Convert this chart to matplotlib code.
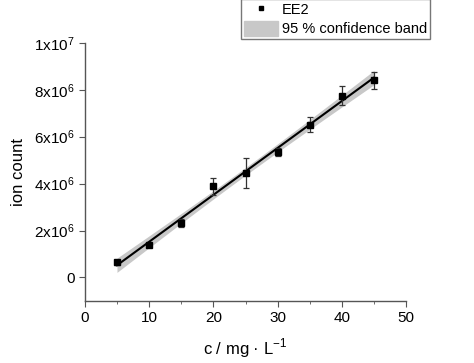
import numpy as np
import matplotlib
matplotlib.use('Agg')
import matplotlib.pyplot as plt
from matplotlib.patches import Patch
from matplotlib.lines import Line2D

plt.rcParams['font.family'] = ['Liberation Sans', 'DejaVu Sans']
plt.rcParams['mathtext.fontset'] = 'custom'
plt.rcParams['mathtext.rm'] = 'Liberation Sans'

# concentration (mg/L) and ion counts
conc = [5, 10, 15, 20, 25, 30, 35, 40, 45]
counts = [0.64e6, 1.39e6, 2.31e6, 3.88e6, 4.46e6, 5.34e6, 6.51e6, 7.75e6, 8.41e6]
errs = [0.10e6, 0.05e6, 0.17e6, 0.35e6, 0.63e6, 0.18e6, 0.32e6, 0.41e6, 0.36e6]

yticks = [0, 2e6, 4e6, 6e6, 8e6, 1e7]
ytick_labels = ['0', r'$\mathregular{2x10^{6}}$', r'$\mathregular{4x10^{6}}$',
                r'$\mathregular{6x10^{6}}$', r'$\mathregular{8x10^{6}}$',
                r'$\mathregular{1x10^{7}}$']
xticks = [0, 10, 20, 30, 40, 50]

x = np.array(conc)
y = np.array(counts)

# linear fit and 95 % confidence band of the fit
slope, icpt = np.polyfit(x, y, 1)
xf = np.linspace(5, 45, 100)
yf = slope * xf + icpt
n = len(x)
resid = y - (slope * x + icpt)
s = np.sqrt(np.sum(resid**2) / (n - 2))
t = 2.365
band = t * s * np.sqrt(1 / n + (xf - x.mean())**2 / np.sum((x - x.mean())**2))

fig = plt.figure(figsize=(4.74, 3.63), dpi=100)
ax = fig.add_axes([0.179, 0.171, 0.678, 0.711])

ax.fill_between(xf, yf - band, yf + band, color='#c8c8c8', lw=0, zorder=1)
ax.plot(xf, yf, color='black', lw=1.5, zorder=2)
ax.errorbar(x, y, yerr=errs, fmt='s', color='black', ms=5, ecolor='#333333',
            elinewidth=0.9, capsize=2, capthick=0.9, zorder=3)

ax.set_xlim(0, 50)
ax.set_ylim(-1e6, 1e7)
ax.set_xticks(xticks)
ax.set_xticks([5, 15, 25, 35, 45], minor=True)
ax.set_yticks(yticks)
ax.set_yticklabels(ytick_labels)

for side in ['top', 'right']:
    ax.spines[side].set_visible(False)
for side in ['left', 'bottom']:
    ax.spines[side].set_color('#555555')
    ax.spines[side].set_linewidth(1.0)
ax.tick_params(which='major', direction='out', length=4, color='#555555',
               labelsize=11)
ax.tick_params(which='minor', direction='out', length=2, color='#555555')

ax.set_xlabel(r'c / mg · L$^{\mathregular{-1}}$', fontsize=12, labelpad=8)
ax.set_ylabel('ion count', fontsize=12, labelpad=6)

handles = [Line2D([], [], marker='s', ls='none', color='black', ms=3.5),
           Patch(facecolor='#c8c8c8', edgecolor='#c8c8c8')]
fig.legend(handles, ['EE2', '95 % confidence band'], loc='upper left',
           bbox_to_anchor=(0.509, 1.003), frameon=True, fancybox=False,
           edgecolor='#555555', fontsize=10.5, borderpad=0.2,
           handlelength=2.3, handleheight=1.2, handletextpad=0.3,
           labelspacing=0.25, borderaxespad=0)

fig.savefig('out.png', dpi=100)
